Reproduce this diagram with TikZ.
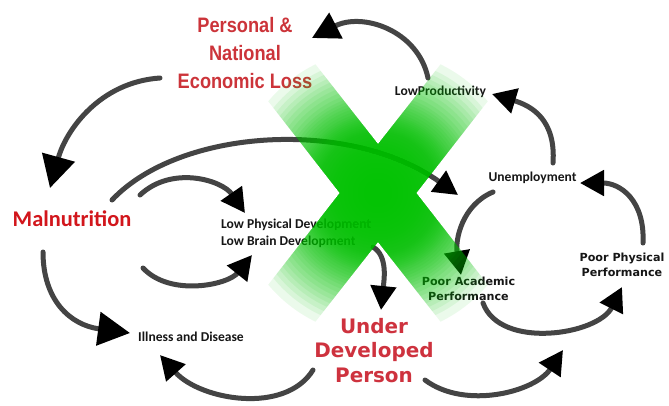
\documentclass[tikz,border=0pt]{standalone}
\usepackage{fontspec}
\setmainfont{Carlito}
\newfontfamily\calb{Carlito}
\newfontfamily\condsans[FakeStretch=0.87]{Liberation Sans}
\newfontfamily\verd{DejaVu Sans}
\usetikzlibrary{arrows.meta,calc}
\definecolor{lossred}{RGB}{204,52,58}
\definecolor{malred}{RGB}{210,22,28}
\definecolor{udpred}{RGB}{206,50,62}
\definecolor{linegray}{RGB}{68,68,68}
\definecolor{txt}{RGB}{22,22,22}
\definecolor{xgreen}{RGB}{0,195,0}
\begin{document}
\begin{tikzpicture}[x=1bp,y=-1bp,
  flow/.style={line width=5bp, draw=linegray, line cap=round, -{Triangle[length=24bp,width=25bp,color=black]}},
  bigflow/.style={flow, -{Triangle[length=32bp,width=33bp,color=black]}},
  midflow/.style={flow, -{Triangle[length=27bp,width=28bp,color=black]}},
  small/.style={font=\calb\bfseries\fontsize{13.6}{17}\selectfont, text=txt, inner sep=0pt},
  verdlbl/.style={font=\verd\bfseries\fontsize{11.2}{15}\selectfont, text=txt, inner sep=0pt, align=center},
  losslbl/.style={font=\condsans\bfseries\fontsize{21}{28.5}\selectfont, text=lossred, align=center, inner sep=0pt},
  mallbl/.style={font=\calb\bfseries\fontsize{22.5}{27}\selectfont, text=malred, inner sep=0pt},
  udplbl/.style={font=\verd\bfseries\fontsize{20}{25}\selectfont, text=udpred, align=center, inner sep=0pt},
  xlayer/.style={fill=xgreen, fill opacity=0.08}
]
\useasboundingbox (0,0) rectangle (669,405);
\fill[white] (0,0) rectangle (669,405);

\node[losslbl] (loss) at (245,53) {Personal \&\\National\\Economic Loss};
\node[mallbl] (mal) at (72,218.5) {Malnutrition};
\node[udplbl] (udp) at (374,350.5) {Under\\Developed\\Person};
\node[small] (prod) at (440.5,92) {LowProductivity};
\node[small] (unemp) at (532.5,178) {Unemployment};
\node[small, align=left, anchor=west] (lowdev) at (221,233) {Low Physical Development\\Low Brain Development};
\node[small] (ill) at (191,337) {Illness and Disease};
\node[verdlbl] (acad) at (468.5,289.3) {Poor Academic\\Performance};
\node[verdlbl] (phys) at (622,264.7) {Poor Physical\\Performance};

\draw[bigflow] ($(loss)+(-85,25)$) .. controls (100,82) and (66,130) .. ($(mal)+(-22,-30.5)$);
\draw[midflow] ($(prod)+(-12.5,-14)$) .. controls (418,30) and (362,12) .. ($(loss)+(67,-15)$);
\draw[flow] ($(unemp)+(20.5,-15)$) .. controls (556,120) and (532,106) .. ($(prod)+(51.5,2)$);
\draw[flow] ($(phys)+(21,-21.7)$) .. controls (645,200) and (620,183) .. ($(unemp)+(47.5,5)$);
\draw[flow] ($(unemp)+(-39.5,14)$) .. controls (462,205) and (455,240) .. ($(acad)+(-7.5,-14.3)$);
\draw[flow] ($(acad)+(14.5,13.7)$) .. controls (500,350) and (598,335) .. ($(phys)+(0,22.3)$);
\draw[flow] ($(udp)+(51,29.5)$) .. controls (465,410) and (535,392) .. ($(phys)+(-59,85.3)$);
\draw[flow] ($(udp)+(-61,19.5)$) .. controls (285,415) and (200,400) .. ($(ill)+(-31,18)$);
\draw[bigflow] ($(mal)+(-29,33.5)$) .. controls (43,300) and (70,325) .. ($(ill)+(-61,-4)$);
\draw[flow] ($(mal)+(71,49.5)$) .. controls (170,297) and (228,285) .. ($(lowdev.west)+(31,22)$);
\draw[flow] ($(mal)+(68,-23.5)$) .. controls (172,165) and (222,180) .. ($(lowdev.west)+(24,-20)$);
\draw[flow] ($(mal)+(40,-18.5)$) .. controls (180,128) and (350,118) .. ($(unemp)+(-74.5,17)$);
\draw[flow] ($(lowdev.west)+(152,14)$) .. controls (388,256) and (384,280) .. ($(udp)+(7,-40.5)$);

% translucent green X, fading from its centre
\begin{scope}
  \clip (446.8,329.7) -- (494.0,292.7) -- (309.2,56.3) -- (262.0,93.3) -- cycle
        (494.0,93.3) -- (446.8,56.3) -- (262.0,292.7) -- (309.2,329.7) -- cycle;
  \foreach \r in {143,134.9,129.8,124.7,120.3,115.9,111.4,107,102.6,98.8,95.9,93.1,90.2,87.4,84.5,81.7,79.3,77.5,75.6,73.8,72,70.2,68.4,66.5,64.7,62.9,61.1,59,56,53,50,47,44,41,38,34,30,25,20,14}
    \fill[xlayer] (378,193) circle[radius=\r];
\end{scope}
\end{tikzpicture}
\end{document}
